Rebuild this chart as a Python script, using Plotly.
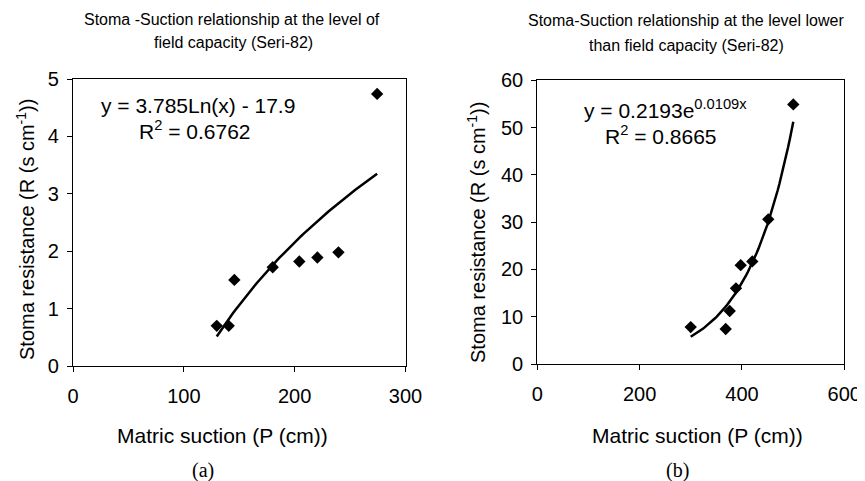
import numpy as np
import plotly.graph_objects as go

# ---- Data ----
a_suction = [129.7, 140.5, 145.6, 180.2, 204.2, 220.5, 239.5, 274.4]
a_resist = [0.70, 0.70, 1.50, 1.72, 1.82, 1.89, 1.98, 4.74]
a_coef_ln = 3.785
a_const = -17.9

b_suction = [299.8, 368.2, 376.0, 388.3, 397.5, 420.2, 451.4, 500.3]
b_resist = [7.8, 7.4, 11.2, 16.0, 20.9, 21.7, 30.6, 54.9]
b_coef = 0.2193
b_exp = 0.0109

a_xticks = [0, 100, 200, 300]
a_yticks = [0, 1, 2, 3, 4, 5]
b_xticks = [0, 200, 400, 600]
b_yticks = [0, 10, 20, 30, 40, 50, 60]

# trendlines from the displayed fit equations
a_tx = np.linspace(min(a_suction), max(a_suction), 60)
a_ty = a_coef_ln * np.log(a_tx) + a_const
b_tx = np.linspace(min(b_suction), max(b_suction), 60)
b_ty = b_coef * np.exp(b_exp * b_tx)

# page body has an 8px margin, so the figure is drawn offset by (8, 8)
OFF = 8
W, H = 865 - OFF, 481 - OFF
FONT = "Liberation Sans, Arial, sans-serif"
SERIF = "Liberation Serif, Times New Roman, serif"

fig = go.Figure()
mk = dict(symbol="diamond", size=9.5, color="black")
fig.add_trace(go.Scatter(x=a_suction, y=a_resist, mode="markers", marker=mk,
                         xaxis="x", yaxis="y", showlegend=False))
fig.add_trace(go.Scatter(x=a_tx, y=a_ty, mode="lines", line=dict(color="black", width=2.5),
                         xaxis="x", yaxis="y", showlegend=False))
fig.add_trace(go.Scatter(x=b_suction, y=b_resist, mode="markers", marker=mk,
                         xaxis="x2", yaxis="y2", showlegend=False))
fig.add_trace(go.Scatter(x=b_tx, y=b_ty, mode="lines", line=dict(color="black", width=2.5),
                         xaxis="x2", yaxis="y2", showlegend=False))

def px_x(p):
    return (p - OFF) / W

def px_y(p):
    return 1 - (p - OFF) / H

axis_common = dict(showline=True, linecolor="black", linewidth=1.3, mirror=True,
                   ticks="outside", ticklen=5, tickcolor="black", tickwidth=1.2,
                   showgrid=False, zeroline=False, automargin=False,
                   tickfont=dict(family=FONT, size=20, color="black"))

fig.update_layout(
    template="none",
    width=W, height=H,
    margin=dict(l=0, r=0, t=0, b=0, autoexpand=False),
    paper_bgcolor="white", plot_bgcolor="white",
    xaxis=dict(domain=[px_x(73), px_x(405.5)], range=[0, 300], tickvals=a_xticks,
               anchor="y", ticklabelstandoff=7, **axis_common),
    yaxis=dict(domain=[px_y(366), px_y(79)], range=[0, 5], tickvals=a_yticks,
               anchor="x", ticklabelstandoff=4, **axis_common),
    xaxis2=dict(domain=[px_x(537.3), px_x(844.3)], range=[0, 600], tickvals=b_xticks,
                anchor="y2", ticklabelstandoff=7, **axis_common),
    yaxis2=dict(domain=[px_y(364), px_y(80.3)], range=[0, 60], tickvals=b_yticks,
                anchor="x2", ticklabelstandoff=4, **axis_common),
)

def ann(text, x, y, size=21, xanchor="center", angle=0, family=FONT):
    fig.add_annotation(text=text, x=px_x(x), y=px_y(y), xref="paper", yref="paper",
                       xanchor=xanchor, yanchor="middle", showarrow=False,
                       textangle=angle, font=dict(family=family, size=size, color="black"))

# titles
ann("Stoma -Suction relationship at the level of", 231.5, 19, size=16)
ann("field capacity (Seri-82)", 233, 43, size=16)
ann("Stoma-Suction relationship at the level lower", 686, 21, size=16)
ann("than field capacity (Seri-82)", 686, 45, size=16)

# axis titles
ann("Matric suction (P (cm))", 222, 435)
ann("Matric suction (P (cm))", 697, 435)
ann("Stoma resistance (R (s cm<sup>-1</sup>))", 25, 230, size=20, angle=-90)
ann("Stoma resistance (R (s cm<sup>-1</sup>))", 476, 233, size=20, angle=-90)

# equations
ann("y = 3.785Ln(x) - 17.9", 197.5, 105)
ann("R<sup>2</sup> = 0.6762", 195, 130)
ann("y = 0.2193e<sup>0.0109x</sup>", 581.7, 109, xanchor="left")
ann("R<sup>2</sup> = 0.8665", 661, 135)

# panel labels
ann("(a)", 203, 470, size=20, family=SERIF)
ann("(b)", 677, 470, size=20, family=SERIF)

fig.write_html("out.html")
